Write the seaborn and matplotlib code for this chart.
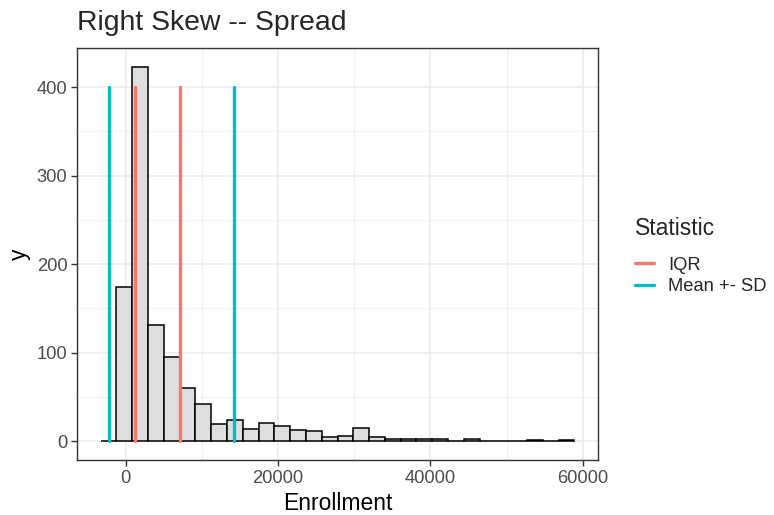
import numpy as np
import pandas as pd
import matplotlib
matplotlib.use("Agg")
import matplotlib.pyplot as plt
import seaborn as sns
from matplotlib.ticker import MultipleLocator

# Histogram of enrollment (30 bins, counts)
bin_start = -3264
bin_width = 2071
counts = [0, 174, 423, 131, 95, 60, 42, 19, 24, 14, 20, 17, 13, 12, 5,
          6, 15, 5, 3, 2, 3, 2, 0, 2, 0, 0, 0, 1, 0, 1]

# Summary statistics drawn as segments
enroll_mean = 5985
enroll_sd = 8185
q1 = 1200
q3 = 7120
line_top = 400

stat_names = ["IQR", "Mean +- SD"]
stat_colors = ["#F8766D", "#00BFC4"]

x_ticks = [0, 20000, 40000, 60000]
y_ticks = [0, 100, 200, 300, 400]

# Build the tables
edges = [bin_start + bin_width * k for k in range(len(counts) + 1)]
hist_df = pd.DataFrame({"Enrollment": [e + bin_width / 2 for e in edges[:-1]],
                        "n": counts})

stat_x = {"IQR": [q1, q3],
          "Mean +- SD": [enroll_mean - enroll_sd, enroll_mean + enroll_sd]}
rows = []
for name in stat_names:
    for i, xv in enumerate(stat_x[name]):
        for yv in [0, line_top]:
            rows.append({"x": xv, "y": yv, "Statistic": name, "line": f"{name}{i}"})
seg = pd.DataFrame(rows)

# Style (ggplot theme_bw look)
sns.set_style("whitegrid", {
    "axes.edgecolor": "#333333",
    "grid.color": "#EBEBEB",
    "xtick.bottom": True,
    "ytick.left": True,
})
plt.rcParams["font.family"] = ["Liberation Sans", "DejaVu Sans"]

fig, ax = plt.subplots(figsize=(7.74, 5.15), dpi=100)
fig.subplots_adjust(left=0.0995, right=0.7726, top=0.9068, bottom=0.107)

sns.histplot(data=hist_df, x="Enrollment", weights="n", bins=edges, color="#DEDEDE",
             edgecolor="black", linewidth=1.1, alpha=1, ax=ax)

sns.lineplot(data=seg, x="x", y="y", hue="Statistic", hue_order=stat_names,
             units="line", estimator=None, sort=False,
             palette=dict(zip(stat_names, stat_colors)), linewidth=2.4, ax=ax)

# Axis limits with ggplot-like 5% expansion
x_lo, x_hi = edges[0], edges[-1]
pad = 0.05 * (x_hi - x_lo)
ax.set_xlim(x_lo - pad, x_hi + pad)
y_hi = max(max(counts), line_top)
ax.set_ylim(-0.05 * y_hi, 1.05 * y_hi)

ax.set_xticks(x_ticks)
ax.set_xticklabels([str(v) for v in x_ticks])
ax.set_yticks(y_ticks)
ax.xaxis.set_minor_locator(MultipleLocator(10000))
ax.yaxis.set_minor_locator(MultipleLocator(50))
ax.grid(which="major", color="#EBEBEB", linewidth=1.1)
ax.grid(which="minor", color="#EBEBEB", linewidth=0.55)
ax.set_axisbelow(True)
ax.tick_params(which="major", length=4, width=1, color="#333333",
               labelsize=13.2, labelcolor="#4D4D4D", pad=3)
ax.tick_params(which="minor", length=0)
for sp in ax.spines.values():
    sp.set_linewidth(1.0)
    sp.set_color("#333333")

ax.set_xlabel("Enrollment", fontsize=16.5, color="black")
ax.set_ylabel("y", fontsize=16.5, color="black")
ax.set_title("Right Skew -- Spread", loc="left", fontsize=20.4, pad=13)

sns.move_legend(ax, "center left", bbox_to_anchor=(1.04, 0.495), frameon=False,
                title="Statistic", fontsize=13.2, title_fontsize=16.5,
                handlelength=1.0, handletextpad=0.8, alignment="left",
                labelspacing=0.25)
leg = ax.get_legend()
leg._legend_box.sep = 12  # extra room between title and keys

plt.savefig("out.png", dpi=100)
